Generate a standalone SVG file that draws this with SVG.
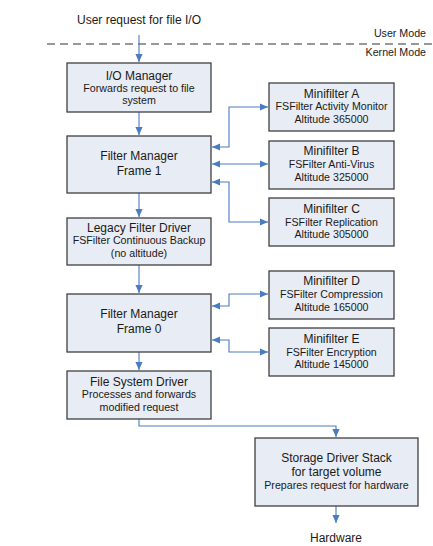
<svg xmlns="http://www.w3.org/2000/svg" width="433" height="546" viewBox="0 0 433 546">
<defs>
<style>
.box{fill:#E8ECF4;stroke:#404040;stroke-width:1.3}
.t{font-family:"Liberation Sans",Arial,sans-serif;fill:#1a1a1a;text-anchor:middle}
.h{font-size:12px}
.s{font-size:10.67px}
.c{fill:none;stroke:#4A7CC4;stroke-width:1.1}
</style>
<marker id="ah" viewBox="0 0 8 8" refX="8" refY="4" markerWidth="8" markerHeight="8" markerUnits="userSpaceOnUse" orient="auto-start-reverse">
<path d="M0,0.4 L8,4 L0,7.6 Z" fill="#4A7CC4"/>
</marker>
</defs>
<rect width="433" height="546" fill="#fff"/>
<text class="t h" x="139" y="24">User request for file I/O</text>
<line x1="47" y1="44" x2="433" y2="44" stroke="#333" stroke-width="1.2" stroke-dasharray="8,5"/>
<text class="t s" x="426" y="37" style="text-anchor:end">User Mode</text>
<text class="t s" x="426" y="56" style="text-anchor:end">Kernel Mode</text>
<g id="connectors">
<path class="c" d="M139,35 V62" marker-end="url(#ah)"/>
<path class="c" d="M139,112 V135" marker-end="url(#ah)"/>
<path class="c" d="M139,193 V217" marker-end="url(#ah)"/>
<path class="c" d="M139,265 V293" marker-end="url(#ah)"/>
<path class="c" d="M139,352 V370" marker-end="url(#ah)"/>
<path class="c" d="M139,419 V426 H336 V437" marker-end="url(#ah)"/>
<path class="c" d="M336,506 V523" marker-end="url(#ah)"/>
<path class="c" d="M212,147 H229 V107 H268" marker-start="url(#ah)" marker-end="url(#ah)"/>
<path class="c" d="M212,164 H268" marker-start="url(#ah)" marker-end="url(#ah)"/>
<path class="c" d="M212,182 H229 V222 H268" marker-start="url(#ah)" marker-end="url(#ah)"/>
<path class="c" d="M212,306 H229 V294 H268" marker-start="url(#ah)" marker-end="url(#ah)"/>
<path class="c" d="M212,340 H229 V352 H268" marker-start="url(#ah)" marker-end="url(#ah)"/>
</g>
<g id="io-manager">
<rect class="box" x="67" y="63" width="144" height="49"/>
<text class="t h" x="139" y="80">I/O Manager</text>
<text class="t s" x="139" y="92">Forwards request to file</text>
<text class="t s" x="139" y="104">system</text>
</g>
<g id="filter-manager-1">
<rect class="box" x="67" y="136" width="144" height="57"/>
<text class="t h" x="139" y="160">Filter Manager</text>
<text class="t h" x="139" y="175">Frame 1</text>
</g>
<g id="legacy-filter">
<rect class="box" x="67" y="218" width="144" height="47"/>
<text class="t h" x="139" y="232">Legacy Filter Driver</text>
<text class="t s" x="139" y="244">FSFilter Continuous Backup</text>
<text class="t s" x="139" y="257">(no altitude)</text>
</g>
<g id="filter-manager-0">
<rect class="box" x="67" y="294" width="144" height="58"/>
<text class="t h" x="139" y="318">Filter Manager</text>
<text class="t h" x="139" y="333">Frame 0</text>
</g>
<g id="file-system-driver">
<rect class="box" x="67" y="371" width="144" height="48"/>
<text class="t h" x="139" y="386">File System Driver</text>
<text class="t s" x="139" y="398">Processes and forwards</text>
<text class="t s" x="139" y="411">modified request</text>
</g>
<g id="minifilter-a">
<rect class="box" x="269" y="83" width="125" height="48"/>
<text class="t h" x="331.5" y="98">Minifilter A</text>
<text class="t s" x="331.5" y="110">FSFilter Activity Monitor</text>
<text class="t s" x="331.5" y="123">Altitude 365000</text>
</g>
<g id="minifilter-b">
<rect class="box" x="269" y="141" width="125" height="48"/>
<text class="t h" x="331.5" y="155">Minifilter B</text>
<text class="t s" x="331.5" y="168">FSFilter Anti-Virus</text>
<text class="t s" x="331.5" y="181">Altitude 325000</text>
</g>
<g id="minifilter-c">
<rect class="box" x="269" y="198" width="125" height="48"/>
<text class="t h" x="331.5" y="213">Minifilter C</text>
<text class="t s" x="331.5" y="226">FSFilter Replication</text>
<text class="t s" x="331.5" y="238">Altitude 305000</text>
</g>
<g id="minifilter-d">
<rect class="box" x="269" y="271" width="125" height="48"/>
<text class="t h" x="331.5" y="285">Minifilter D</text>
<text class="t s" x="331.5" y="298">FSFilter Compression</text>
<text class="t s" x="331.5" y="311">Altitude 165000</text>
</g>
<g id="minifilter-e">
<rect class="box" x="269" y="328" width="125" height="48"/>
<text class="t h" x="331.5" y="343">Minifilter E</text>
<text class="t s" x="331.5" y="356">FSFilter Encryption</text>
<text class="t s" x="331.5" y="368">Altitude 145000</text>
</g>
<g id="storage-driver-stack">
<rect class="box" x="255" y="438" width="163" height="68"/>
<text class="t h" x="336.5" y="462">Storage Driver Stack</text>
<text class="t h" x="336.5" y="476">for target volume</text>
<text class="t s" x="336.5" y="489">Prepares request for hardware</text>
</g>
<text class="t h" x="336" y="542">Hardware</text>
</svg>
